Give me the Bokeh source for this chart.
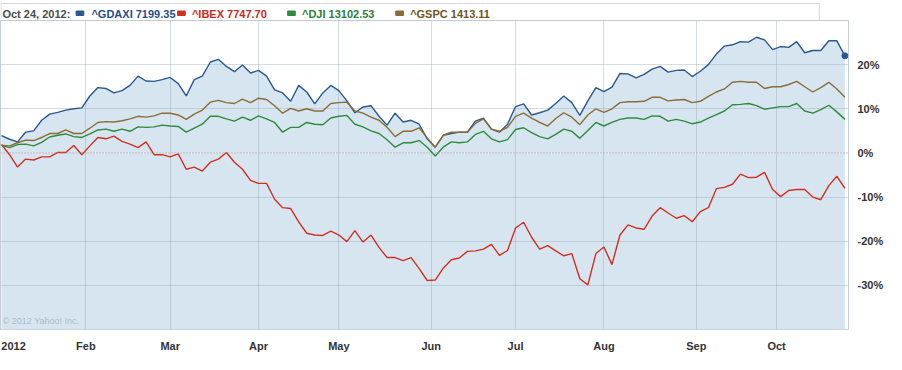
import numpy as np
import pandas as pd
from bokeh.plotting import figure
from bokeh.layouts import column
from bokeh.models import FixedTicker, Span, Label
from bokeh.core.properties import value
from bokeh.embed import file_html
from bokeh.resources import INLINE

# ---------------- data ----------------
# trading sessions (European + US), Jan 2 - Oct 24, 2012 (Good Friday closed everywhere)
trading_days = pd.bdate_range("2012-01-02", "2012-10-24").drop(pd.Timestamp("2012-04-06"))
sample_days = trading_days[1::2]          # one reading every second session

as_of = "Oct 24, 2012:"
names = ["^GDAXI", "^IBEX", "^DJI", "^GSPC"]
last_close = ["7199.35", "7747.70", "13102.53", "1413.11"]

# % change
gdaxi = [3.9, 3.1, 2.5, 4.7, 5.0, 7.4, 8.8, 9.2, 9.7, 10.0,
         10.2, 12.9, 14.8, 14.6, 13.6, 14.1, 15.3, 17.4, 16.3, 16.2,
         16.6, 17.1, 15.7, 12.9, 16.6, 17.4, 20.6, 21.2, 19.6, 18.4,
         19.9, 18.1, 18.7, 17.4, 14.3, 13.6, 11.7, 15.3, 13.8, 11.1,
         13.6, 15.3, 14.1, 11.8, 9.1, 10.4, 10.7, 8.3, 6.3, 9.0,
         7.0, 7.4, 6.5, 3.2, 1.3, 4.0, 4.4, 4.7, 4.7, 7.2,
         7.9, 5.4, 4.7, 6.5, 10.5, 11.1, 8.6, 9.1, 9.7, 11.2,
         12.9, 11.4, 8.5, 11.8, 14.8, 13.9, 14.9, 18.0, 17.9, 17.0,
         17.8, 19.0, 19.6, 18.3, 18.7, 18.8, 17.3, 18.5, 20.0, 22.4,
         24.2, 24.5, 25.2, 25.1, 26.2, 25.6, 23.4, 24.1, 23.9, 25.2,
         22.7, 23.2, 23.2, 25.4, 25.4, 22.0]

ibex = [1.9, -0.4, -3.2, -1.4, -1.6, -0.9, -0.9, 0.1, 0.1, 1.7,
        -0.4, 1.6, 3.5, 3.2, 3.8, 2.6, 2.0, 1.2, 2.5, -0.4,
        -0.4, -0.9, -0.2, -3.7, -3.2, -4.1, -2.1, -1.4, 0.1, -2.1,
        -3.7, -6.2, -6.9, -6.9, -10.5, -12.4, -12.6, -15.6, -18.2, -18.6,
        -18.7, -17.7, -18.6, -20.1, -17.6, -20.2, -18.6, -21.4, -23.7, -23.7,
        -24.4, -23.7, -26.2, -28.9, -28.8, -26.1, -24.2, -23.8, -22.3, -22.2,
        -21.8, -20.7, -23.2, -22.1, -17.0, -15.7, -19.1, -21.8, -21.0, -22.2,
        -23.3, -22.8, -28.5, -29.9, -22.8, -21.3, -25.3, -18.6, -16.3, -17.0,
        -17.3, -14.3, -12.4, -13.6, -14.8, -14.2, -15.6, -13.3, -12.4, -8.1,
        -7.8, -7.1, -4.8, -5.6, -5.5, -4.4, -8.3, -9.9, -8.5, -8.3,
        -8.3, -10.0, -10.6, -7.4, -5.3, -8.0]

dji = [1.7, 1.2, 1.9, 2.0, 1.6, 2.4, 3.6, 4.0, 4.3, 3.7,
       3.5, 4.3, 5.2, 5.4, 4.9, 5.4, 4.9, 5.9, 5.8, 5.9,
       6.3, 6.1, 6.0, 4.7, 5.6, 6.5, 8.3, 8.3, 7.7, 7.2,
       8.1, 7.4, 8.4, 7.7, 6.9, 4.7, 5.8, 5.8, 6.9, 6.5,
       6.4, 7.9, 8.3, 8.5, 6.5, 5.9, 5.0, 4.4, 3.0, 1.3,
       2.3, 2.3, 2.8, 1.3, -0.7, 1.3, 2.5, 2.3, 2.5, 4.2,
       4.9, 3.2, 2.5, 3.0, 5.3, 5.7, 4.6, 3.7, 3.2, 4.2,
       5.4, 4.9, 3.3, 5.1, 6.9, 6.1, 6.9, 7.6, 7.9, 7.9,
       7.6, 8.4, 8.3, 7.2, 7.6, 7.2, 6.6, 7.0, 7.9, 8.7,
       9.5, 10.9, 11.0, 11.2, 10.7, 9.9, 10.2, 10.5, 10.5, 11.2,
       9.5, 9.0, 9.8, 10.8, 9.3, 7.6]

gspc = [1.7, 1.6, 2.3, 2.9, 2.8, 3.5, 4.4, 4.4, 5.2, 4.4,
        4.4, 5.6, 6.9, 7.1, 7.0, 7.3, 7.7, 8.3, 8.1, 8.4,
        9.0, 9.0, 8.6, 7.6, 8.8, 9.7, 11.5, 11.9, 11.4, 11.2,
        12.2, 11.4, 12.4, 12.1, 10.7, 9.0, 10.1, 9.5, 10.0, 9.5,
        9.5, 11.2, 11.4, 11.5, 9.5, 9.0, 8.1, 7.4, 5.8, 3.7,
        4.9, 4.9, 5.7, 3.4, 1.3, 4.0, 4.7, 4.7, 4.7, 6.7,
        7.7, 5.4, 4.9, 5.8, 8.3, 9.0, 7.9, 6.9, 6.1, 7.8,
        9.1, 8.1, 6.4, 8.6, 10.0, 9.2, 10.0, 11.4, 11.6, 11.6,
        11.7, 12.6, 12.6, 11.8, 12.0, 12.1, 11.4, 11.7, 12.8, 13.8,
        14.5, 16.0, 16.2, 16.0, 16.0, 14.6, 15.0, 15.0, 15.5, 16.2,
        15.0, 13.8, 14.8, 16.0, 14.5, 12.6]

month_labels = ["2012", "Feb", "Mar", "Apr", "May", "Jun", "Jul", "Aug", "Sep", "Oct"]
pct_ticks = [-30, -20, -10, 0, 10, 20]

# ---------------- styling ----------------
LINE_COLORS = ["#2a5890", "#d2301f", "#2f8a3c", "#8a6c36"]
TEXT_COLORS = ["#1f4f8c", "#cc2a1a", "#2e7d3a", "#6e5622"]
FILL = "#d7e5f0"
FONT = "Liberation Sans"
Y_MIN, Y_MAX = -40, 30
YEAR_TICK = 4          # "2012" label sits at the left edge

xs = trading_days.get_indexer(sample_days)
month_starts = [int(np.argmax(trading_days.month == m)) for m in range(2, 11)]

# ---------------- legend strip ----------------
leg = figure(width=886, height=20, x_range=(0, 886), y_range=(0, 20),
             output_backend="svg", toolbar_location=None, min_border=0,
             x_axis_type=None, y_axis_type=None)
leg.grid.visible = False
leg.outline_line_color = None
leg.quad(left=0.5, right=855.5, bottom=0, top=17, fill_alpha=0, line_color="#d6d6d6")
leg.text(x=[2], y=[7], text=[as_of], text_color="#4d4d4d", text_font=value(FONT),
         text_font_style="bold", text_font_size="11px", text_baseline="middle")
sq_x = [79, 185, 300, 413]
tx_x = [95, 200, 315, 428]
leg.quad(left=sq_x, right=[s + 8 for s in sq_x], bottom=5, top=9.5, color=LINE_COLORS)
leg.text(x=tx_x, y=[7] * 4, text=[f"{n} {v}" for n, v in zip(names, last_close)],
         text_color=TEXT_COLORS, text_font=value(FONT), text_font_style="bold",
         text_font_size="11px", text_baseline="middle")

# ---------------- main chart ----------------
p = figure(width=886, height=334, x_range=(0.75, 211.9), y_range=(Y_MIN, Y_MAX),
           output_backend="svg", toolbar_location=None, y_axis_location="right",
           min_border_left=0, min_border_right=30, min_border_top=0, min_border_bottom=17)
p.outline_line_color = "#c3ccd5"

p.varea(x=xs, y1=Y_MIN, y2=gdaxi, fill_color=FILL, level="image")

p.xaxis.ticker = FixedTicker(ticks=[YEAR_TICK] + month_starts)
p.xaxis.major_label_overrides = {t: lab for t, lab in zip([YEAR_TICK] + month_starts, month_labels)}
p.xgrid.ticker = FixedTicker(ticks=month_starts)
p.yaxis.ticker = FixedTicker(ticks=pct_ticks)
p.yaxis.major_label_overrides = {t: f"{t}%" for t in pct_ticks}
p.ygrid.ticker = FixedTicker(ticks=[t for t in pct_ticks if t != 0])
p.grid.grid_line_color = "#8fa5b8"
p.grid.grid_line_alpha = 0.38

for ax in (p.xaxis, p.yaxis):
    ax.axis_line_color = None
    ax.major_tick_line_color = None
    ax.minor_tick_line_color = None
    ax.major_label_text_font = FONT
    ax.major_label_text_font_style = "bold"
    ax.major_label_text_font_size = "11px"
    ax.major_label_text_color = "#333333"
p.xaxis.major_label_standoff = 4
p.yaxis.major_label_standoff = 3

p.add_layout(Span(location=0, dimension="width", line_color="#c09090",
                  line_dash="1 2", line_width=1))

for series, col in zip([gdaxi, ibex, dji, gspc], LINE_COLORS):
    p.line(xs, series, line_color=col, line_width=1.4)
p.scatter([xs[-1]], [gdaxi[-1]], size=6, color=LINE_COLORS[0])

p.add_layout(Label(x=1.3, y=-38.1, text="\u00a9 2012 Yahoo! Inc.", text_font=FONT,
                   text_font_size="9px", text_color="#a9bccd", text_baseline="middle"))

layout = column(leg, p)
open("out.html", "w").write(file_html(layout, INLINE))
